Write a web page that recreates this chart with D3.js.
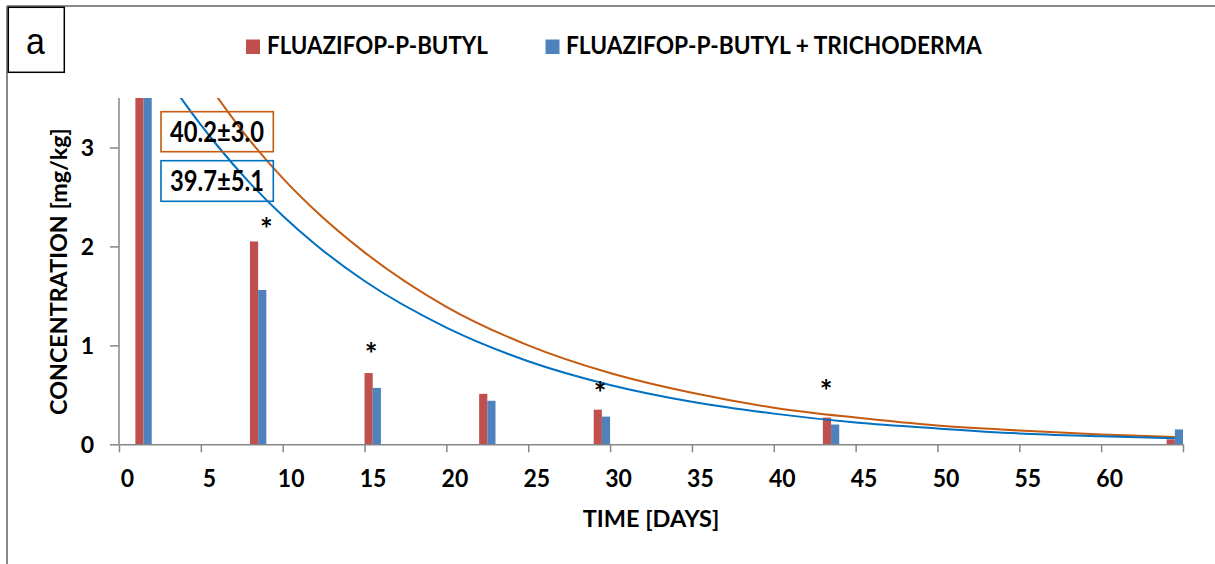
<!DOCTYPE html>
<html><head><meta charset="utf-8">
<script src="https://cdn.jsdelivr.net/npm/d3@7"></script>
<style>body{margin:0;background:#fff}svg{display:block}</style>
</head><body>
<svg id="c" width="1215" height="564"></svg>
<script>
// ---------------- data ----------------
const days = [1, 8, 15, 22, 29, 43, 64];
const fpb = [4.9, 2.05, 0.72, 0.51, 0.35, 0.27, 0.05];
const fpbTricho = [4.3, 1.56, 0.57, 0.44, 0.28, 0.20, 0.15];

const fitFpbDays = [5, 6, 8, 10, 12, 15, 20, 25, 30, 35, 40, 45, 50, 55, 60, 64.5];
const fitFpbValues = [3.75, 3.51, 3.07, 2.69, 2.36, 1.94, 1.39, 1.00, 0.72, 0.52, 0.37, 0.27, 0.19, 0.14, 0.10, 0.074];
const fitTrichoDays = [3, 4, 6, 8, 10, 12, 15, 20, 25, 30, 35, 40, 45, 50, 55, 60, 64.5];
const fitTrichoValues = [3.69, 3.45, 3.02, 2.64, 2.31, 2.02, 1.65, 1.18, 0.84, 0.60, 0.43, 0.31, 0.22, 0.16, 0.11, 0.081, 0.060];

const starDays = [9.0, 15.4, 29.4, 43.2];
const starValues = [2.24, 0.97, 0.58, 0.60];

const xTicks = [0, 5, 10, 15, 20, 25, 30, 35, 40, 45, 50, 55, 60, 65];
const xTickLabels = ["0", "5", "10", "15", "20", "25", "30", "35", "40", "45", "50", "55", "60", ""];
const yTicks = [0, 1, 2, 3];
const yTickLabels = ["0", "1", "2", "3"];

const seriesNames = ["FLUAZIFOP-P-BUTYL", "FLUAZIFOP-P-BUTYL + TRICHODERMA"];
const fitLabels = ["40.2±3.0", "39.7±5.1"];
const panelLabel = "a";
const xTitle = "TIME [DAYS]";
const yTitle = "CONCENTRATION [mg/kg]";

// ---------------- styles ----------------
const RED = "#C0504D", BLUE = "#4F81BD";
const LINE_OR = "#C55A11", LINE_BL = "#0070C0";
const AXIS = "#868686";
const FONT = "Lato,'Open Sans',sans-serif";

const svg = d3.select("#c");

const x = d3.scaleLinear().domain([0, 65]).range([119, 1183]);
const y = d3.scaleLinear().domain([0, 3.5]).range([444.3, 98]);

function fit(sel, w) {
  const n = sel.node();
  const fs = parseFloat(sel.attr("font-size"));
  const l = n.getComputedTextLength();
  sel.attr("font-size", fs * w / l);
  return sel;
}
function placed(px, py, sy, extra) {
  return `translate(${px},${py})${extra || ""} scale(1,${sy})`;
}

// outer frame
svg.append("line").attr("x1", 7).attr("x2", 1215).attr("y1", 6).attr("y2", 6)
  .attr("stroke", "#888").attr("stroke-width", 2);
svg.append("line").attr("x1", 7).attr("x2", 7).attr("y1", 6).attr("y2", 564)
  .attr("stroke", "#888").attr("stroke-width", 2);

// panel label box
svg.append("rect").attr("x", 8.3).attr("y", 7.3).attr("width", 56).attr("height", 65)
  .attr("fill", "#fff").attr("stroke", "#000").attr("stroke-width", 1.5);
svg.append("text").attr("transform", placed(35.5, 53.5, 1.1)).attr("text-anchor", "middle")
  .attr("font-family", "'Liberation Sans',Arial,sans-serif").attr("font-size", 34)
  .text(panelLabel);

// clip
svg.append("clipPath").attr("id", "plot").append("rect")
  .attr("x", 119).attr("y", 98).attr("width", 1064).attr("height", 347);
const g = svg.append("g").attr("clip-path", "url(#plot)");

const barW = 0.5;
g.selectAll("rect.r").data(days).join("rect").attr("class", "r")
  .attr("x", d => x(d)).attr("width", d => x(d + barW) - x(d))
  .attr("y", (d, i) => y(fpb[i])).attr("height", (d, i) => y(0) - y(fpb[i]))
  .attr("fill", RED);
g.selectAll("rect.b").data(days).join("rect").attr("class", "b")
  .attr("x", d => x(d + barW)).attr("width", d => x(d + 2 * barW) - x(d + barW))
  .attr("y", (d, i) => y(fpbTricho[i])).attr("height", (d, i) => y(0) - y(fpbTricho[i]))
  .attr("fill", BLUE);

const line = d3.line().x(d => x(d[0])).y(d => y(d[1])).curve(d3.curveMonotoneX);
g.append("path").datum(fitFpbDays.map((d, i) => [d, fitFpbValues[i]]))
  .attr("d", line).attr("fill", "none").attr("stroke", LINE_OR).attr("stroke-width", 2);
g.append("path").datum(fitTrichoDays.map((d, i) => [d, fitTrichoValues[i]]))
  .attr("d", line).attr("fill", "none").attr("stroke", LINE_BL).attr("stroke-width", 2);

// axes
const xAxis = svg.append("g").attr("transform", `translate(0,${y(0)})`)
  .call(d3.axisBottom(x).tickValues(xTicks).tickSize(8).tickSizeOuter(0).tickFormat((d, i) => xTickLabels[i]));
const yAxis = svg.append("g").attr("transform", `translate(${x(0)},0)`)
  .call(d3.axisLeft(y).tickValues(yTicks).tickSize(9).tickSizeOuter(0).tickFormat((d, i) => yTickLabels[i]));
[xAxis, yAxis].forEach(a => {
  a.select(".domain").attr("stroke", AXIS).attr("stroke-width", 1.5);
  a.selectAll(".tick line").attr("stroke", AXIS).attr("stroke-width", 1.5);
  a.selectAll("text").attr("font-family", FONT).attr("font-weight", "bold")
    .attr("font-size", 23).attr("fill", "#000");
});
xAxis.selectAll("text").attr("dy", null).attr("y", 0).attr("x", 0)
  .attr("transform", placed(8, 43, 1.05));
yAxis.selectAll("text").attr("x", 0).attr("dy", null).attr("y", 0)
  .attr("transform", placed(-25, 8, 1.0));
yAxis.select(".domain").attr("d", `M0,${y(3.5)}V${y(0)}`);

// stars
svg.selectAll("text.star").data(starDays).join("text").attr("class", "star")
  .attr("x", d => x(d)).attr("y", (d, i) => y(starValues[i]) + 17)
  .attr("text-anchor", "middle").attr("font-family", FONT).attr("font-weight", "bold")
  .attr("font-size", 30).text("*");

// fit label boxes
const boxes = [
  {c: LINE_OR, y0: 111.7, y1: 151.7, base: 141.7},
  {c: LINE_BL, y0: 160.7, y1: 201.3, base: 191}
];
boxes.forEach((b, i) => {
  svg.append("rect").attr("x", 161).attr("y", b.y0).attr("width", 112.3).attr("height", b.y1 - b.y0)
    .attr("fill", "none").attr("stroke", b.c).attr("stroke-width", 1.6);
  const t = svg.append("text").attr("transform", placed(170, b.base, 1.18))
    .attr("font-family", FONT).attr("font-weight", "bold").attr("font-size", 24).text(fitLabels[i]);
  fit(t, 94);
});

// legend
const leg = [
  {sx: 246, tx: 267, w: 221, c: RED},
  {sx: 545.5, tx: 566, w: 416, c: BLUE}
];
leg.forEach((l, i) => {
  svg.append("rect").attr("x", l.sx).attr("y", 39.5).attr("width", 14).attr("height", 14.5).attr("fill", l.c);
  const t = svg.append("text").attr("transform", placed(l.tx, 54, 1.1))
    .attr("font-family", FONT).attr("font-weight", "bold").attr("font-size", 24).text(seriesNames[i]);
  fit(t, l.w);
});

// axis titles
const xt = svg.append("text").attr("transform", placed(651, 527, 1.0)).attr("text-anchor", "middle")
  .attr("font-family", FONT).attr("font-weight", "bold").attr("font-size", 24).text(xTitle);
fit(xt, 136.6);
const yt = svg.append("text").attr("transform", "translate(67,271.5) rotate(-90)").attr("text-anchor", "middle")
  .attr("font-family", FONT).attr("font-weight", "bold").attr("font-size", 24).text(yTitle);
fit(yt, 287);
</script>
</body></html>
